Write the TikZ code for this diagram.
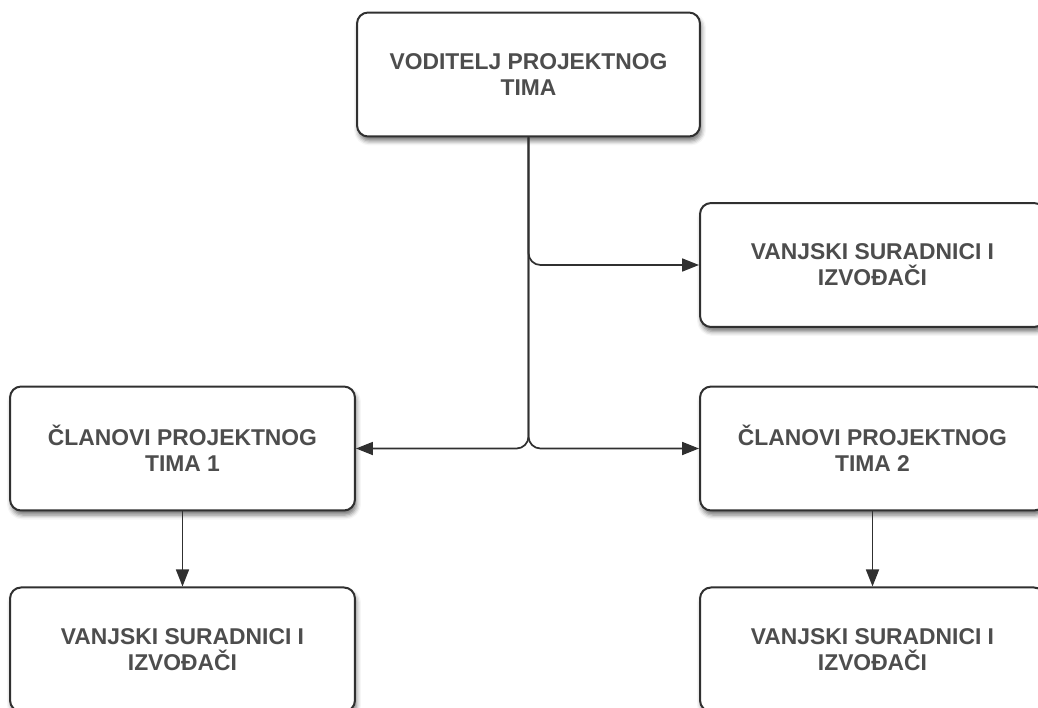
\documentclass[tikz,border=0pt]{standalone}
\usepackage{fontspec}
\setsansfont{Liberation Sans}
\usetikzlibrary{arrows.meta, positioning, shadows.blur}
\definecolor{cline}{HTML}{303030}
\definecolor{ctext}{HTML}{4D4D4D}
\tikzset{
  every picture/.style={font=\sffamily\bfseries},
  box/.style={draw=cline, fill=white, rounded corners=0.22cm, line width=0.04cm, align=center, text=ctext,
    minimum width=6.9cm, minimum height=2.48cm, font=\sffamily\bfseries\fontsize{13}{14.8}\selectfont,
    blur shadow={shadow xshift=0.03cm, shadow yshift=-0.09cm, shadow blur radius=0.09cm, shadow opacity=55}},
  arrow/.style={-{Triangle[length=0.34cm, width=0.26cm]}, draw=cline, line width=0.035cm, rounded corners=0.24cm},
}

\begin{document}
\begin{tikzpicture}[x=0.02cm, y=-0.02cm, node distance=1.5cm]
  \useasboundingbox (0,0) rectangle (1038,707);
  % leader and first row
  \node[box, minimum width=6.86cm] (vod) at (528.5,74.5) {VODITELJ PROJEKTNOG\\TIMA};
  \node[box] (van) at (872.5,265) {VANJSKI SURADNICI I\\IZVOĐAČI};
  \node[box] (cl1) at (182.5,448.5) {ČLANOVI PROJEKTNOG\\TIMA 1};
  \node[box] (cl2) at (872.5,448.5) {ČLANOVI PROJEKTNOG\\TIMA 2};
  % outside contractors under each team
  \node[box, below=of cl1] (van1) {VANJSKI SURADNICI I\\IZVOĐAČI};
  \node[box, below=of cl2] (van2) {VANJSKI SURADNICI I\\IZVOĐAČI};
  \foreach \t in {van, cl1, cl2} \draw[arrow] (vod.south) |- (\t);
  \draw[arrow] (cl1) -- (van1); \draw[arrow] (cl2) -- (van2);
\end{tikzpicture}
\end{document}
